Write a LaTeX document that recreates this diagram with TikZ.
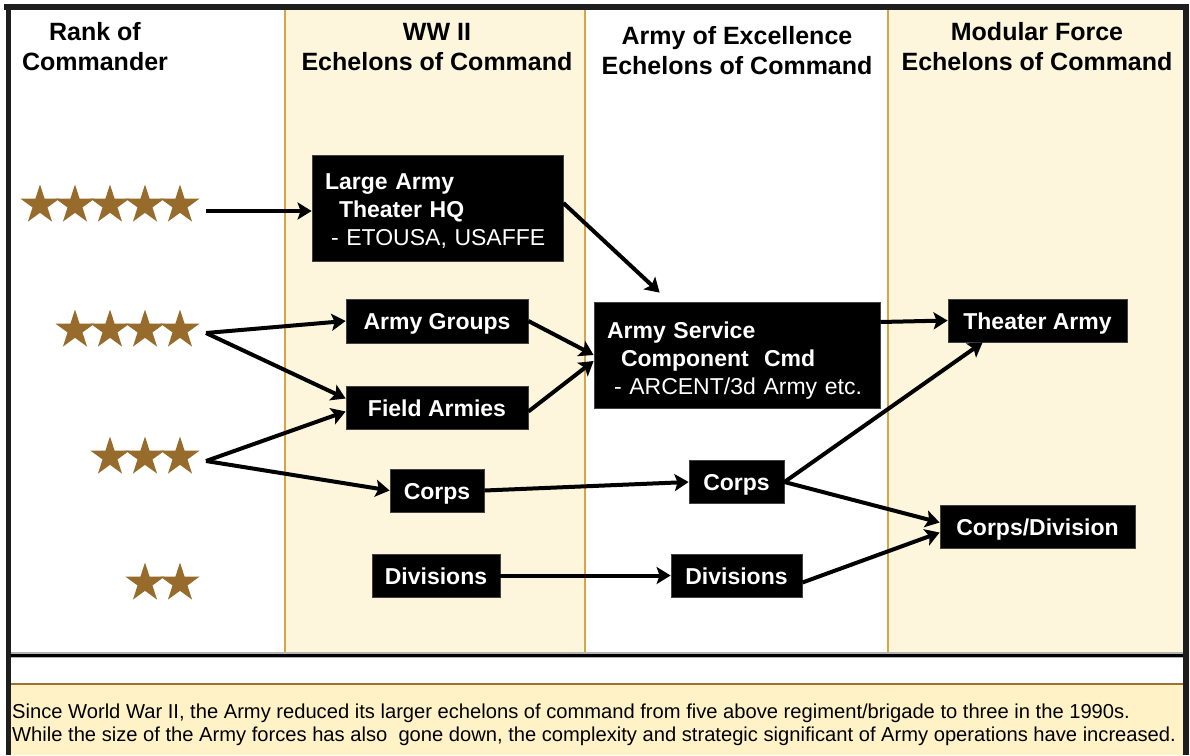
\documentclass[tikz,border=0pt]{standalone}
\usepackage{fontspec}
\setmainfont{Liberation Sans}
\usetikzlibrary{shapes.geometric,arrows.meta,calc}
\definecolor{cream}{HTML}{FDF6DC}
\definecolor{notecream}{HTML}{FFF2C7}
\definecolor{divider}{HTML}{D8A544}
\definecolor{brownline}{HTML}{A0702E}
\definecolor{starbrown}{HTML}{966B2B}
\definecolor{frame}{HTML}{1E1E1E}
\begin{document}
\begin{tikzpicture}[x=1pt,y=-1pt,
  box/.style={fill=black, draw=black!75, line width=0.8pt, text=white,
    font=\fontsize{23}{28}\selectfont\bfseries, inner sep=0pt},
  onebox/.style={box, text height=17pt, text depth=0pt},
  rankstar/.style={star, star points=5, star point ratio=2.618, fill=starbrown,
    minimum size=41pt, inner sep=0pt, draw=none},
  arr/.style={line width=4pt, -{Stealth[length=14pt,width=17pt,inset=3pt]}},
  head/.style={font=\fontsize{25}{30}\selectfont\bfseries, align=center, inner sep=0pt}
]
\useasboundingbox (0,0) rectangle (1190,755);

% column backgrounds
\fill[white] (0,0) rectangle (1190,755);
\fill[cream] (285,10) rectangle (585,654);
\fill[cream] (888,10) rectangle (1184,654);
\foreach \cx in {285,585,888}
  \draw[divider, line width=1.5pt] (\cx,10) -- (\cx,654);

% separator and note panel
\draw[gray!60, line width=6pt] (8,655) -- (1186,655);
\draw[black, line width=3pt] (8,655) -- (1186,655);
\fill[notecream] (8,684) rectangle (1186,755);
\draw[brownline, line width=2.5pt] (8,684) -- (1186,684);

% frame
\draw[frame, line width=5pt] (8.5,4) -- (8.5,755);
\draw[frame, line width=6pt] (4,7) -- (1189,7);
\draw[frame, line width=5.5pt] (1186,4) -- (1186,755);

% headings
\node[head] (h1) at (95,47) {Rank of\\Commander};
\node[head] (h2) at (437,47) {WW II\\Echelons of Command};
\node[head] (h3) at (737,51) {Army of Excellence\\Echelons of Command};
\node[head] (h4) at (1037,47) {Modular Force\\Echelons of Command};

% rank stars
\foreach \i/\sx in {1/40,2/75,3/110,4/145,5/180}
  \node[rankstar] (s5-\i) at (\sx,205) {};
\foreach \i/\sx in {1/75,2/110,3/145,4/180}
  \node[rankstar] (s4-\i) at (\sx,330) {};
\foreach \i/\sx in {1/110,2/145,3/180}
  \node[rankstar] (s3-\i) at (\sx,457) {};
\foreach \i/\sx in {1/145,2/180}
  \node[rankstar] (s2-\i) at (\sx,583) {};
\coordinate (r5) at (206,211);
\coordinate (r4) at (206,333);
\coordinate (r3) at (206,461);

% WW II echelons
\node[box, text width=225pt, align=left, inner xsep=13pt, minimum height=106pt] (hq) at (437.5,208)
  {\rule{0pt}{22pt}Large Army\\\hspace*{14pt}Theater HQ\\\hspace*{6pt}{\mdseries - ETOUSA, USAFFE}};
\node[onebox, minimum width=182pt, minimum height=44pt] (ag) at (437,321) {Army Groups};
\node[onebox, minimum width=182pt, minimum height=43pt] (fa) at (437,407.5) {Field Armies};
\node[onebox, minimum width=94pt, minimum height=43pt] (corpsA) at (437,490.5) {Corps};
\node[onebox, minimum width=128pt, minimum height=43pt] (divA) at (436,575.5) {Divisions};

% Army of Excellence echelons
\node[box, text width=260pt, align=left, inner xsep=13pt, minimum height=106pt] (ascc) at (737,355)
  {\rule{0pt}{27pt}Army Service\\\hspace*{14pt}Component\ \ Cmd\\\hspace*{7pt}{\mdseries - ARCENT/3d Army etc.}};
\node[onebox, minimum width=95pt, minimum height=43pt] (corpsB) at (736.5,482) {Corps};
\node[onebox, minimum width=131pt, minimum height=43pt] (divB) at (736.5,575.5) {Divisions};

% Modular Force echelons
\node[onebox, minimum width=179pt, minimum height=43pt] (ta) at (1037.5,320.5) {Theater Army};
\node[onebox, minimum width=195pt, minimum height=43pt] (cd) at (1037.5,526.5) {Corps/Division};

% connectors
\draw[arr] (r5) -- (r5 -| hq.west);
\draw[arr] (r4) -- (ag.west);
\draw[arr] (r4) -- ([yshift=9pt]fa.west);
\draw[arr] (r3) -- ([yshift=-4pt]fa.west);
\draw[arr] (r3) -- (corpsA.west);
\draw[arr] ([yshift=5pt]hq.east) -- ([xshift=66pt,yshift=9pt]ascc.north west);
\draw[arr] (ag.east) -- (ascc.west);
\draw[arr] ([yshift=-4pt]fa.east) -- ([yshift=-6pt]ascc.west);
\draw[arr] ([yshift=-1.5pt]ascc.east |- ta.west) -- (ta.west);
\draw[arr] (corpsA.east) -- (corpsB.west);
\draw[arr] (corpsB.east) -- ([xshift=35pt]ta.south west);
\draw[arr] (corpsB.east) -- ([yshift=4pt]cd.west);
\draw[arr] (divA.east) -- (divB.west);
\draw[arr] ([yshift=-7pt]divB.east) -- ([yshift=-6pt]cd.west);

% note
\node[anchor=west, align=left, inner sep=0pt, font=\fontsize{20.15}{23}\selectfont] (note) at (12,725)
  {Since World War II, the Army reduced its larger echelons of command from five above regiment/brigade to three in the 1990s.\\
   While the size of the Army forces has also\ \ gone down, the complexity and strategic significant of Army operations have increased.};
\end{tikzpicture}
\end{document}
